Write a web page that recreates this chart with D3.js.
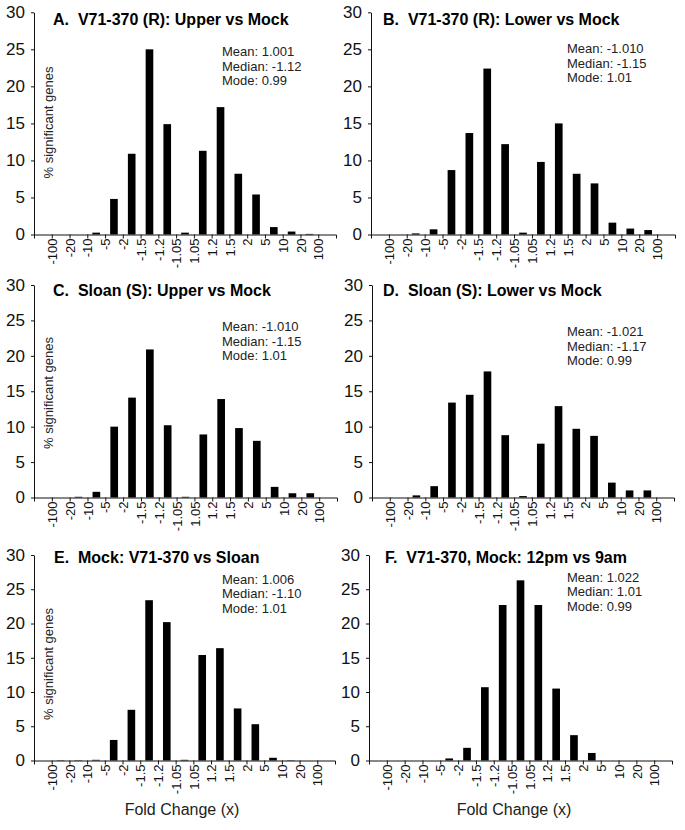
<!DOCTYPE html>
<html><head><meta charset="utf-8">
<script src="https://cdn.jsdelivr.net/npm/d3@7"></script>
<style>
body{margin:0;background:#fff}
svg{display:block;font-family:"Liberation Sans",Arial,Helvetica,sans-serif}
</style>
</head><body>
<svg id="chart" width="685" height="830"></svg>
<script>
// ---- data ----
const categories = ["< -100","-100 to -20","-20 to -10","-10 to -5","-5 to -2","-2 to -1.5","-1.5 to -1.2","-1.2 to -1.05",
  "-1.05 to 1.05","1.05 to 1.2","1.2 to 1.5","1.5 to 2","2 to 5","5 to 10","10 to 20","20 to 100","> 100"];
const tickLabels = ["-100","-20","-10","-5","-2","-1.5","-1.2","-1.05","1.05","1.2","1.5","2","5","10","20","100"];
const yTicks = [0,5,10,15,20,25,30];

const titles = ["A.  V71-370 (R): Upper vs Mock","B.  V71-370 (R): Lower vs Mock","C.  Sloan (S): Upper vs Mock",
  "D.  Sloan (S): Lower vs Mock","E.  Mock: V71-370 vs Sloan","F.  V71-370, Mock: 12pm vs 9am"];

const statsA = ["Mean: 1.001","Median: -1.12","Mode: 0.99"];
const statsB = ["Mean: -1.010","Median: -1.15","Mode: 1.01"];
const statsC = ["Mean: -1.010","Median: -1.15","Mode: 1.01"];
const statsD = ["Mean: -1.021","Median: -1.17","Mode: 0.99"];
const statsE = ["Mean: 1.006","Median: -1.10","Mode: 1.01"];
const statsF = ["Mean: 1.022","Median: 1.01","Mode: 0.99"];

const valuesA = [0,0,0,0.25,4.8,10.9,25.0,14.9,0.25,11.3,17.2,8.2,5.4,1.0,0.4,0.08,0];
const valuesB = [0,0,0.15,0.7,8.7,13.7,22.4,12.2,0.25,9.8,15.0,8.2,6.9,1.6,0.8,0.6,0];
const valuesC = [0,0,0.1,0.8,10.0,14.1,20.9,10.2,0.1,8.9,13.9,9.8,8.0,1.5,0.6,0.6,0];
const valuesD = [0,0,0.3,1.6,13.4,14.5,17.8,8.8,0.2,7.6,12.9,9.7,8.7,2.1,1.0,1.0,0];
const valuesE = [0,0.05,0.05,0.1,3.0,7.4,23.4,20.2,0.1,15.4,16.4,7.6,5.3,0.4,0.05,0,0];
const valuesF = [0,0,0,0,0.3,1.85,10.7,22.7,26.3,22.7,10.5,3.7,1.1,0,0,0,0];

const yAxisTitle = "% significant genes";
const xAxisTitle = "Fold Change (x)";

// ---- layout ----
const panels = [
  {values:valuesA, stats:statsA, title:titles[0], x0:34,  x1:336, y0:234.5, yTop:12.3, tx:53,  ty:25,  sx:222, sy:56,  yLab:122.5, xLab:false},
  {values:valuesB, stats:statsB, title:titles[1], x0:371, x1:675, y0:234.5, yTop:12.3, tx:383, ty:25,  sx:567, sy:53,  yLab:null,  xLab:false},
  {values:valuesC, stats:statsC, title:titles[2], x0:34,  x1:337, y0:497.5, yTop:285,  tx:53,  ty:296, sx:222, sy:331, yLab:393,   xLab:false},
  {values:valuesD, stats:statsD, title:titles[3], x0:372, x1:674, y0:497.5, yTop:285,  tx:383, ty:296, sx:567, sy:336, yLab:null,  xLab:false},
  {values:valuesE, stats:statsE, title:titles[4], x0:34,  x1:335, y0:760.5, yTop:555,  tx:54,  ty:563, sx:222, sy:583.5, yLab:664, xLab:true, xlx:182},
  {values:valuesF, stats:statsF, title:titles[5], x0:369, x1:672, y0:760.5, yTop:555,  tx:385, ty:563, sx:567, sy:581.5, yLab:null, xLab:true, xlx:514}
];

const svg = d3.select("#chart");

panels.forEach(p => {
  const g = svg.append("g");
  const x = d3.scaleBand().domain(categories).range([p.x0, p.x1]).paddingInner(0.57).paddingOuter(0.285);
  const xb = d3.scalePoint().domain(tickLabels).range([p.x0 + x.step(), p.x1 - x.step()]);
  const y = d3.scaleLinear().domain([0, 30]).range([p.y0, p.yTop]);

  // bars
  g.selectAll("rect.bar").data(p.values.map((v,i)=>({c:categories[i], v})))
    .join("rect").attr("class","bar")
    .attr("x", d => x(d.c)).attr("width", x.bandwidth())
    .attr("y", d => y(d.v)).attr("height", d => y(0) - y(d.v))
    .attr("fill", "#000");

  // x domain line with end ticks
  const xd = g.append("g").attr("transform", `translate(0,${p.y0})`)
    .call(d3.axisBottom(x).tickValues([]).tickSizeOuter(4));
  xd.select(".domain").attr("stroke","#111");

  // x boundary ticks + labels
  const xa = g.append("g").attr("transform", `translate(0,${p.y0})`)
    .call(d3.axisBottom(xb).tickSize(4));
  xa.select(".domain").remove();
  xa.selectAll(".tick line").attr("stroke","#111");
  xa.selectAll(".tick text")
    .attr("transform","rotate(-90)")
    .attr("text-anchor","end")
    .attr("x", -4).attr("y", 0).attr("dy","0.36em")
    .attr("font-size", 13).attr("fill","#111");

  // y axis
  const ya = g.append("g").attr("transform", `translate(${p.x0},0)`)
    .call(d3.axisLeft(y).tickValues(yTicks).tickSize(3).tickSizeOuter(0).tickPadding(6));
  ya.select(".domain").attr("stroke","#111");
  ya.selectAll(".tick line").attr("stroke","#111");
  ya.selectAll(".tick text").attr("font-size", 17).attr("fill","#111").attr("font-family","'Liberation Sans', Arial, sans-serif");

  // title
  g.append("text").attr("x", p.tx).attr("y", p.ty)
    .attr("font-size", 16).attr("font-weight","bold").attr("fill","#000")
    .attr("xml:space","preserve").style("white-space","pre")
    .text(p.title);

  // stats
  g.selectAll("text.stat").data(p.stats).join("text").attr("class","stat")
    .attr("x", p.sx).attr("y", (d,i) => p.sy + i*14.6)
    .attr("font-size", 13).attr("fill","#222").text(d => d);

  if (p.yLab !== null) {
    g.append("text").attr("transform", `translate(48,${p.yLab}) rotate(-90)`)
      .attr("text-anchor","middle").attr("dy","0.35em")
      .attr("font-size", 13).attr("fill","#222").text(yAxisTitle);
  }
  if (p.xLab) {
    g.append("text").attr("x", p.xlx).attr("y", 815)
      .attr("text-anchor","middle").attr("font-size", 16).attr("fill","#222").text(xAxisTitle);
  }
});
</script>
</body></html>
